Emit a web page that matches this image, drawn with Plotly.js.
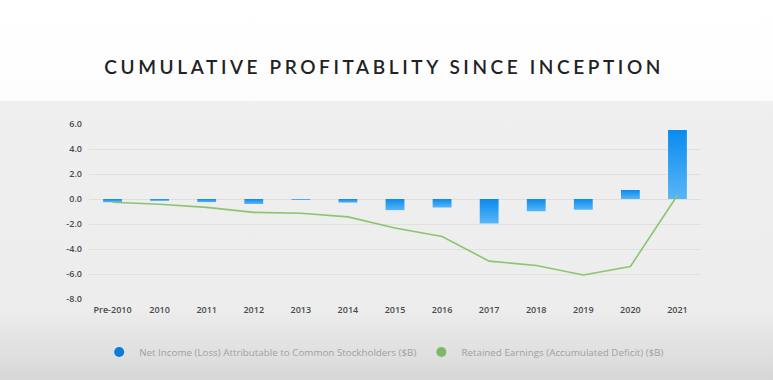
<!DOCTYPE html>
<html>
<head>
<meta charset="utf-8">
<script src="https://cdn.plot.ly/plotly-3.0.1.min.js"></script>
<style>
html,body{margin:0;padding:0;width:773px;height:380px;overflow:hidden;}
body{background:linear-gradient(to bottom,#ffffff 0px,#fdfdfd 100px,#efefef 102px,#ededed 310px,#e6e6e6 330px,#dedede 360px,#d6d6d6 380px);}
#chart{width:773px;height:380px;}
</style>
</head>
<body>
<div id="chart"></div>
<script>
const categories = ["Pre-2010","2010","2011","2012","2013","2014","2015","2016","2017","2018","2019","2020","2021"];
const netIncome = [-0.26,-0.15,-0.25,-0.40,-0.07,-0.29,-0.89,-0.68,-1.96,-0.98,-0.86,0.72,5.52];
const retainedEarnings = [-0.26,-0.42,-0.67,-1.07,-1.14,-1.43,-2.32,-3.00,-4.97,-5.32,-6.08,-5.40,0.30];
const yTicks = [-8,-6,-4,-2,0,2,4,6];
const yTickLabels = ["-8.0","-6.0","-4.0","-2.0","0.0","2.0","4.0","6.0"];
const legendNames = ["Net Income (Loss) Attributable to Common Stockholders ($B)","Retained Earnings (Accumulated Deficit) ($B)"];

const traces = [
  {type:'bar', x:categories, y:netIncome, width:0.4, marker:{color:'#2a9cf3', line:{width:0}}, showlegend:false, name:legendNames[0], hoverinfo:'skip'},
  {type:'scatter', mode:'lines', x:categories, y:retainedEarnings, line:{color:'#8dc46e', width:1.6}, showlegend:false, name:legendNames[1], hoverinfo:'skip'},
  {type:'scatter', mode:'markers', x:[null], y:[null], marker:{symbol:'circle', size:10, color:'#0b7ad9'}, name:legendNames[0], showlegend:true},
  {type:'scatter', mode:'markers', x:[null], y:[null], marker:{symbol:'circle', size:10, color:'#7db869'}, name:legendNames[1], showlegend:true}
];

const layout = {
  width:773, height:380,
  paper_bgcolor:'rgba(0,0,0,0)', plot_bgcolor:'rgba(0,0,0,0)',
  margin:{l:89, r:72, t:124, b:81},
  title:{text:'CUMULATIVE PROFITABLITY SINCE INCEPTION', x:0.497, xref:'container', xanchor:'center', y:1-67/380, yanchor:'middle', yref:'container',
         font:{family:'Lato, "Open Sans", sans-serif', size:19, color:'#222222', weight:600}},
  xaxis:{type:'category', showgrid:false, zeroline:false, showline:false, ticks:'',
         tickfont:{family:'"Open Sans", sans-serif', size:9, color:'#4a4a4a', weight:600}, ticklabelstandoff:4},
  yaxis:{range:[-8,6], tickvals:yTicks, ticktext:yTickLabels, showgrid:true, gridcolor:'#e0e0e0', gridwidth:1,
         zeroline:true, zerolinecolor:'#dedede', zerolinewidth:1, showline:false, ticks:'',
         tickfont:{family:'"Open Sans", sans-serif', size:9, color:'#4a4a4a', weight:600}, ticklabelstandoff:6},
  showlegend:true,
  legend:{orientation:'h', x:0.497, xanchor:'center', xref:'container', y:1-352/380, yref:'container', yanchor:'middle',
          font:{family:'"Open Sans", sans-serif', size:9.8, color:'#a0a0a0'}, bgcolor:'rgba(0,0,0,0)', itemwidth:30},
  bargap:0.6
};

Plotly.newPlot('chart', traces, layout, {displayModeBar:false, staticPlot:true}).then(function(gd){
  const svg = gd.querySelector('svg.main-svg');
  const ns = 'http://www.w3.org/2000/svg';
  const defs = document.createElementNS(ns,'defs');
  const lg = document.createElementNS(ns,'linearGradient');
  lg.setAttribute('id','barGrad'); lg.setAttribute('x1','0'); lg.setAttribute('y1','0'); lg.setAttribute('x2','0'); lg.setAttribute('y2','1');
  [['0%','#0a8aef'],['100%','#58b6f6']].forEach(function(s){
    const st = document.createElementNS(ns,'stop'); st.setAttribute('offset',s[0]); st.setAttribute('stop-color',s[1]); lg.appendChild(st);
  });
  defs.appendChild(lg); svg.insertBefore(defs, svg.firstChild);
  gd.querySelectorAll('.barlayer .point path').forEach(function(p){ p.style.fill='url(#barGrad)'; });
  const t = gd.querySelector('.gtitle');
  if(t){ t.style.letterSpacing='3.6px'; }
});
</script>
</body>
</html>
